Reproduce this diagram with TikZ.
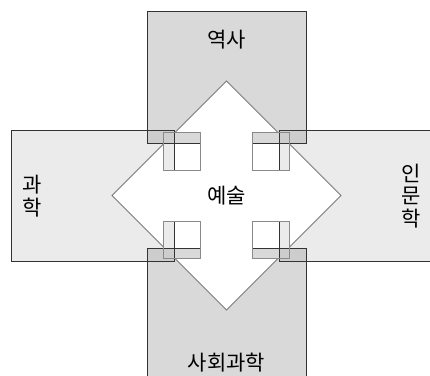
\documentclass[tikz,border=0pt]{standalone}
\usepackage{fontspec}
\newfontfamily\krfont{Noto Sans CJK KR}
\definecolor{vgray}{HTML}{D9D9D9}
\definecolor{hgray}{HTML}{EBEBEB}
\definecolor{ogray}{HTML}{CDCDCD}
\definecolor{edgec}{HTML}{333333}
\definecolor{diac}{HTML}{7A7A7A}
\definecolor{boxc}{HTML}{8A8A8A}
\newcommand\mybarsdraw{%
  \fill[hgray] (11.7,130) rectangle (174,261);
  \fill[hgray] (279,130) rectangle (441.3,261);
  \fill[vgray] (147,11.7) rectangle (306,143);
  \fill[vgray] (147,248) rectangle (306,379.3);
  \fill[ogray] (147,130) rectangle (174,143);
  \fill[ogray] (279,130) rectangle (306,143);
  \fill[ogray] (147,248) rectangle (174,261);
  \fill[ogray] (279,248) rectangle (306,261);
  \draw[baredge] (11.7,130) rectangle (174,261);
  \draw[baredge] (279,130) rectangle (441.3,261);
  \draw[baredge] (147,11.7) rectangle (306,143);
  \draw[baredge] (147,248) rectangle (306,379.3);
}
\begin{document}
\begin{tikzpicture}[x=1pt,y=-1pt,
  baredge/.style={draw=edgec,line width=0.9pt},
  diaedge/.style={draw=diac,line width=0.8pt,fill=white},
  boxedge/.style={draw=boxc,line width=0.8pt},
  lbl/.style={font=\krfont\fontsize{21}{22.5}\selectfont,inner sep=0pt,align=center}]
\useasboundingbox (0,0) rectangle (430,375);
\clip (0,0) rectangle (430,375);
\mybarsdraw
\draw[diaedge] (226.5,81) -- (341,195.5) -- (226.5,310) -- (112,195.5) -- cycle;
\begin{scope}
  \clip (163.3,132.7) rectangle (200.7,170)
        (252.3,132.7) rectangle (289.7,170)
        (163.3,221) rectangle (200.7,258.3)
        (252.3,221) rectangle (289.7,258.3);
  \fill[white] (0,0) rectangle (430,375);
  \mybarsdraw
\end{scope}
\draw[boxedge] (163.3,132.7) rectangle (200.7,170);
\draw[boxedge] (252.3,132.7) rectangle (289.7,170);
\draw[boxedge] (163.3,221) rectangle (200.7,258.3);
\draw[boxedge] (252.3,221) rectangle (289.7,258.3);
\node[lbl] (top) at (226.5,40) {역사};
\node[lbl] (bottom) at (226.5,363) {사회과학};
\node[lbl] (center) at (226.5,196) {예술};
\node[lbl] (left) at (31.7,196) {과\\학};
\node[lbl] (right) at (411.5,196) {인\\문\\학};
\end{tikzpicture}
\end{document}
